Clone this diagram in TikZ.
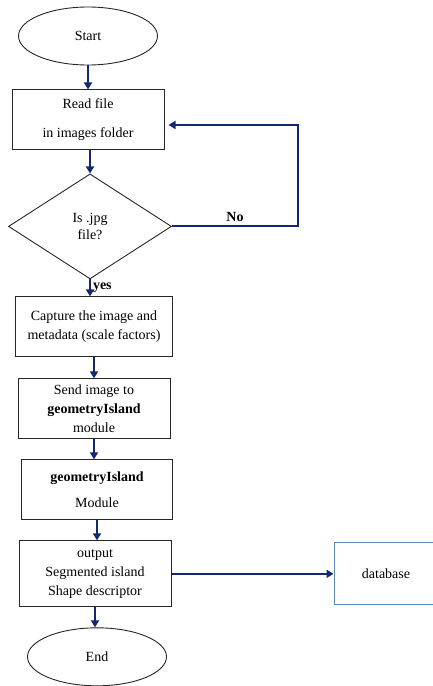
\documentclass[tikz,border=0pt]{standalone}
\usepackage{fontspec}
\setmainfont{Liberation Serif}
\usetikzlibrary{positioning, shapes.geometric, arrows.meta}
\definecolor{flowblue}{RGB}{18,40,112}
\definecolor{dbblue}{RGB}{92,136,186}

\begin{document}
\begin{tikzpicture}[node distance=22pt, every node/.style={font=\fontsize{14}{19}\selectfont},
  terminal/.style={draw=black!85, line width=0.9pt, ellipse, minimum width=139pt, minimum height=58pt},
  procbox/.style={draw=black!85, line width=1pt, minimum width=152pt, minimum height=60pt, align=center, inner sep=0pt},
  decision/.style={draw=black!85, line width=0.9pt, diamond, minimum width=163pt, minimum height=105pt, align=center, inner sep=0pt},
  flow/.style={-{Triangle[length=7pt,width=8pt]}, line width=2pt, draw=flowblue},
  flowlabel/.style={font=\fontsize{14}{17}\selectfont\bfseries}]
  \useasboundingbox (0,0) rectangle (432pt,-686pt);

  \node[terminal] (start) at (88pt,-36pt) {Start};
  \node[procbox, below=24pt of start] (read) {Read file\\[10pt]in images folder};
  \node[decision, below=23pt of read, xshift=2pt] (isjpg) {Is .jpg\\[-2pt]file?};
  \node[procbox, minimum width=157pt, below=17pt of isjpg, xshift=4pt] (capture) {Capture the image and\\metadata (scale factors)};
  \node[procbox, below=21pt of capture] (send) {Send image to\\\textbf{geometryIsland}\\module};
  \node[procbox, minimum width=151pt, below=20pt of send, xshift=3pt] (island) {\textbf{geometryIsland}\\[7pt]Module};
  \node[procbox, minimum height=66pt, below=20pt of island, xshift=-2pt] (output) {output\\Segmented island\\Shape descriptor};
  \node[procbox, draw=dbblue, minimum width=104pt, minimum height=62pt, right=162pt of output] (db) {database};
  \node[terminal, below=20pt of output, xshift=2pt] (end) {End};

  \draw[flow] (start) -- (read);
  \draw[flow] (isjpg.north |- read.south) -- (isjpg.north);
  \draw[flow] (isjpg.south) -- (isjpg.south |- capture.north) node[midway, right, flowlabel, inner sep=2pt] {yes};
  \draw[flow] (isjpg.east) -- ++(126pt,0) node[midway, above, flowlabel] {No} |- ([xshift=4pt, yshift=-5pt]read.east);
  \draw[flow] (capture.south) -- (capture.south |- send.north);
  \draw[flow] (send.south) -- (send.south |- island.north);
  \draw[flow] (island.south) -- (island.south |- output.north);
  \draw[flow] (output.east) -- (db.west);
  \draw[flow] (output.south) -- (output.south |- end.north);
\end{tikzpicture}
\end{document}
